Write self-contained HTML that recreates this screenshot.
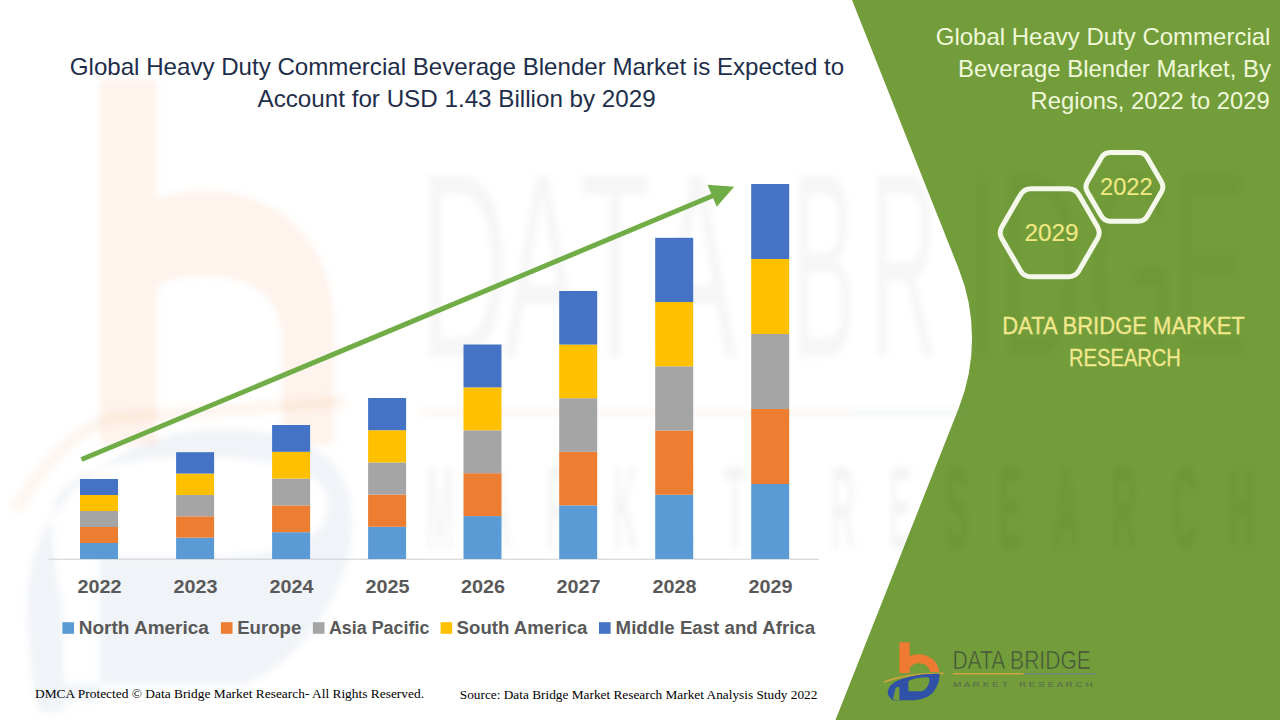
<!DOCTYPE html>
<html><head><meta charset="utf-8"><style>
html,body{margin:0;padding:0;background:#fff;}
body{width:1280px;height:720px;overflow:hidden;position:relative;}
svg{position:absolute;left:0;top:0;display:block;}
.sans{font-family:"Liberation Sans",sans-serif;}
.serif{font-family:"Liberation Serif",serif;}
</style></head><body>
<svg width="1280" height="720" viewBox="0 0 1280 720">
<rect width="1280" height="720" fill="#ffffff"/>
<path d="M852,0 L958.7,268.8 A188.4,188.4 0 0 1 958.8,407.9 L835.5,720 L1280,720 L1280,0 Z" fill="#729D3A"/>

<defs>
<filter id="bl" x="-10%" y="-10%" width="120%" height="120%"><feGaussianBlur stdDeviation="3"/></filter>
<clipPath id="gclip"><path d="M852,0 L958.7,268.8 A188.4,188.4 0 0 1 958.8,407.9 L835.5,720 L1280,720 L1280,0 Z"/></clipPath>
<clipPath id="wclip"><path d="M852,0 L958.7,268.8 A188.4,188.4 0 0 1 958.8,407.9 L835.5,720 L0,720 L0,0 Z"/></clipPath>
</defs>
<g filter="url(#bl)">
<path fill="#F6A46E" fill-opacity="0.135" fill-rule="evenodd" d="M100,80 L157,80 L157,200 C170,193 185,191 205,191 C280,191 334,240 334,330 L334,445 L282,445 L282,340 C282,300 255,276 205,276 C180,276 160,280 157,290 L157,445 L100,445 Z"/>
<path fill="#6070A0" fill-opacity="0.085" fill-rule="evenodd" d="M28,600 C26,520 100,440 200,430 C300,425 352,450 352,525 C352,590 300,662 245,684 L100,684 L100,700 L64,700 L64,712 L40,712 C32,690 28,650 28,600 Z M52,520 C52,470 120,457 200,457 C290,457 328,475 328,505 C328,540 290,557 200,557 L100,557 L100,684 L64,684 L62,600 C56,580 52,550 52,520 Z"/>
<path fill="none" stroke="#F0A060" stroke-opacity="0.11" stroke-width="12" d="M16,510 Q55,440 110,418 L345,402"/>
<rect x="420" y="410" width="430" height="6" fill="#F6A46E" fill-opacity="0.10"/>
<rect x="850" y="410" width="120" height="6" fill="#7090A0" fill-opacity="0.08"/>
<g fill="#000" fill-opacity="0.036" class="sans" font-size="115" text-anchor="middle" clip-path="url(#wclip)">
<text transform="translate(464,357.5) scale(1.08,2.31)">D</text>
<text transform="translate(542,357.5) scale(1.0,2.31)">A</text>
<text transform="translate(615,357.5) scale(1.0,2.31)">T</text>
<text transform="translate(697,357.5) scale(1.05,2.31)">A</text>
<text transform="translate(824,357.5) scale(0.85,2.31)">B</text>
<text transform="translate(904,357.5) scale(0.82,2.31)">R</text>
<text transform="translate(982,357.5) scale(1.0,2.31)">I</text>
<text transform="translate(1040,357.5) scale(1.0,2.31)">D</text>
<text transform="translate(1132,357.5) scale(1.0,2.31)">G</text>
<text transform="translate(1210,357.5) scale(1.0,2.31)">E</text>
</g>
<g fill="#000" fill-opacity="0.022" class="sans" font-size="115" text-anchor="middle" clip-path="url(#gclip)">
<text transform="translate(464,357.5) scale(1.08,2.31)">D</text>
<text transform="translate(542,357.5) scale(1.0,2.31)">A</text>
<text transform="translate(615,357.5) scale(1.0,2.31)">T</text>
<text transform="translate(697,357.5) scale(1.05,2.31)">A</text>
<text transform="translate(824,357.5) scale(0.85,2.31)">B</text>
<text transform="translate(904,357.5) scale(0.82,2.31)">R</text>
<text transform="translate(982,357.5) scale(1.0,2.31)">I</text>
<text transform="translate(1040,357.5) scale(1.0,2.31)">D</text>
<text transform="translate(1132,357.5) scale(1.0,2.31)">G</text>
<text transform="translate(1210,357.5) scale(1.0,2.31)">E</text>
</g>
<g fill="#000" fill-opacity="0.042" class="sans" font-size="34" font-weight="bold" text-anchor="middle">
<text transform="translate(440.0,549) scale(1,3.5)">M</text>
<text transform="translate(499.0,549) scale(1,3.5)">A</text>
<text transform="translate(558.0,549) scale(1,3.5)">R</text>
<text transform="translate(625.0,549) scale(1,3.5)">K</text>
<text transform="translate(680.0,549) scale(1,3.5)">E</text>
<text transform="translate(735.0,549) scale(1,3.5)">T</text>
<text transform="translate(843.0,549) scale(1,3.5)">R</text>
<text transform="translate(900.0,549) scale(1,3.5)">E</text>
<text transform="translate(957.0,549) scale(1,3.5)">S</text>
<text transform="translate(1010.0,549) scale(1,3.5)">E</text>
<text transform="translate(1066.0,549) scale(1,3.5)">A</text>
<text transform="translate(1124.0,549) scale(1,3.5)">R</text>
<text transform="translate(1185.0,549) scale(1,3.5)">C</text>
<text transform="translate(1242.0,549) scale(1,3.5)">H</text>
</g>
</g>

<!-- title -->
<g class="sans" fill="#1E2E4A" font-size="24">
<text x="69.8" y="74.6" textLength="774.4" lengthAdjust="spacingAndGlyphs">Global Heavy Duty Commercial Beverage Blender Market is Expected to</text>
<text x="257.5" y="106.7" textLength="398.2" lengthAdjust="spacingAndGlyphs">Account for USD 1.43 Billion by 2029</text>
</g>
<!-- axis -->
<rect x="48.5" y="558.7" width="770.5" height="1.1" fill="#D2D3D8"/>
<rect x="80" y="543.00" width="38" height="16.00" fill="#5B9BD5"/>
<rect x="80" y="527.00" width="38" height="16.00" fill="#ED7D31"/>
<rect x="80" y="511.00" width="38" height="16.00" fill="#A5A5A5"/>
<rect x="80" y="495.00" width="38" height="16.00" fill="#FFC000"/>
<rect x="80" y="479.00" width="38" height="16.00" fill="#4472C4"/>
<rect x="176.1" y="537.64" width="38" height="21.36" fill="#5B9BD5"/>
<rect x="176.1" y="516.28" width="38" height="21.36" fill="#ED7D31"/>
<rect x="176.1" y="494.92" width="38" height="21.36" fill="#A5A5A5"/>
<rect x="176.1" y="473.56" width="38" height="21.36" fill="#FFC000"/>
<rect x="176.1" y="452.20" width="38" height="21.36" fill="#4472C4"/>
<rect x="272.1" y="532.20" width="38" height="26.80" fill="#5B9BD5"/>
<rect x="272.1" y="505.40" width="38" height="26.80" fill="#ED7D31"/>
<rect x="272.1" y="478.60" width="38" height="26.80" fill="#A5A5A5"/>
<rect x="272.1" y="451.80" width="38" height="26.80" fill="#FFC000"/>
<rect x="272.1" y="425.00" width="38" height="26.80" fill="#4472C4"/>
<rect x="368.1" y="526.80" width="38" height="32.20" fill="#5B9BD5"/>
<rect x="368.1" y="494.60" width="38" height="32.20" fill="#ED7D31"/>
<rect x="368.1" y="462.40" width="38" height="32.20" fill="#A5A5A5"/>
<rect x="368.1" y="430.20" width="38" height="32.20" fill="#FFC000"/>
<rect x="368.1" y="398.00" width="38" height="32.20" fill="#4472C4"/>
<rect x="463.5" y="516.10" width="38" height="42.90" fill="#5B9BD5"/>
<rect x="463.5" y="473.20" width="38" height="42.90" fill="#ED7D31"/>
<rect x="463.5" y="430.30" width="38" height="42.90" fill="#A5A5A5"/>
<rect x="463.5" y="387.40" width="38" height="42.90" fill="#FFC000"/>
<rect x="463.5" y="344.50" width="38" height="42.90" fill="#4472C4"/>
<rect x="559.2" y="505.40" width="38" height="53.60" fill="#5B9BD5"/>
<rect x="559.2" y="451.80" width="38" height="53.60" fill="#ED7D31"/>
<rect x="559.2" y="398.20" width="38" height="53.60" fill="#A5A5A5"/>
<rect x="559.2" y="344.60" width="38" height="53.60" fill="#FFC000"/>
<rect x="559.2" y="291.00" width="38" height="53.60" fill="#4472C4"/>
<rect x="655.2" y="494.76" width="38" height="64.24" fill="#5B9BD5"/>
<rect x="655.2" y="430.52" width="38" height="64.24" fill="#ED7D31"/>
<rect x="655.2" y="366.28" width="38" height="64.24" fill="#A5A5A5"/>
<rect x="655.2" y="302.04" width="38" height="64.24" fill="#FFC000"/>
<rect x="655.2" y="237.80" width="38" height="64.24" fill="#4472C4"/>
<rect x="751.2" y="484.00" width="38" height="75.00" fill="#5B9BD5"/>
<rect x="751.2" y="409.00" width="38" height="75.00" fill="#ED7D31"/>
<rect x="751.2" y="334.00" width="38" height="75.00" fill="#A5A5A5"/>
<rect x="751.2" y="259.00" width="38" height="75.00" fill="#FFC000"/>
<rect x="751.2" y="184.00" width="38" height="75.00" fill="#4472C4"/>
<!-- arrow -->
<line x1="81.5" y1="459.5" x2="714" y2="195.3" stroke="#70AD47" stroke-width="5"/>
<path d="M734.2,186.7 L707.5,184.8 L716.7,206.7 Z" fill="#70AD47"/>
<g class="sans" font-weight="bold" fill="#595959" font-size="18.3">
<text x="77.4" y="592.9" textLength="44" lengthAdjust="spacingAndGlyphs">2022</text>
<text x="173.5" y="592.9" textLength="44" lengthAdjust="spacingAndGlyphs">2023</text>
<text x="269.5" y="592.9" textLength="44" lengthAdjust="spacingAndGlyphs">2024</text>
<text x="365.5" y="592.9" textLength="44" lengthAdjust="spacingAndGlyphs">2025</text>
<text x="460.9" y="592.9" textLength="44" lengthAdjust="spacingAndGlyphs">2026</text>
<text x="556.6" y="592.9" textLength="44" lengthAdjust="spacingAndGlyphs">2027</text>
<text x="652.6" y="592.9" textLength="44" lengthAdjust="spacingAndGlyphs">2028</text>
<text x="748.6" y="592.9" textLength="44" lengthAdjust="spacingAndGlyphs">2029</text>
</g>
<g class="sans" font-weight="bold" fill="#595959" font-size="17.5">
<rect x="62.4" y="622.2" width="11.6" height="11.6" fill="#5B9BD5"/>
<text x="78.7" y="633.6" textLength="130.2" lengthAdjust="spacingAndGlyphs">North America</text>
<rect x="220.9" y="622.2" width="11.6" height="11.6" fill="#ED7D31"/>
<text x="237.2" y="633.6" textLength="64.1" lengthAdjust="spacingAndGlyphs">Europe</text>
<rect x="312.9" y="622.2" width="11.6" height="11.6" fill="#A5A5A5"/>
<text x="328.9" y="633.6" textLength="100.5" lengthAdjust="spacingAndGlyphs">Asia Pacific</text>
<rect x="440.6" y="622.2" width="11.6" height="11.6" fill="#FFC000"/>
<text x="456.6" y="633.6" textLength="130.8" lengthAdjust="spacingAndGlyphs">South America</text>
<rect x="599" y="622.2" width="11.6" height="11.6" fill="#4472C4"/>
<text x="615.6" y="633.6" textLength="199.5" lengthAdjust="spacingAndGlyphs">Middle East and Africa</text>
</g>
<g class="serif" fill="#000" font-size="13">
<text x="35" y="697.9" textLength="389" lengthAdjust="spacingAndGlyphs">DMCA Protected © Data Bridge  Market Research- All Rights Reserved.</text>
<text x="459.8" y="698.6" textLength="357.6" lengthAdjust="spacingAndGlyphs">Source: Data Bridge Market Research Market Analysis Study 2022</text>
</g>
<!-- right panel -->
<g class="sans" fill="#F0F8DA" font-size="24">
<text x="935.8" y="44.8" textLength="334.6" lengthAdjust="spacingAndGlyphs">Global Heavy Duty Commercial</text>
<text x="958" y="76.8" textLength="313" lengthAdjust="spacingAndGlyphs">Beverage Blender Market, By</text>
<text x="1030.6" y="108.7" textLength="239.1" lengthAdjust="spacingAndGlyphs">Regions, 2022 to 2029</text>
</g>
<g fill="none" stroke="#F4F8EA" stroke-width="5" stroke-linejoin="round">
<path d="M1001.93,226.65 L1020.52,194.75 Q1024.05,188.70 1031.05,188.70 L1068.35,188.70 Q1075.35,188.70 1078.88,194.75 L1097.47,226.65 Q1101.00,232.70 1097.47,238.75 L1078.88,270.65 Q1075.35,276.70 1068.35,276.70 L1031.05,276.70 Q1024.05,276.70 1020.52,270.65 L1001.93,238.75 Q998.40,232.70 1001.93,226.65 Z"/>
<path d="M1087.42,181.71 L1101.38,157.69 Q1104.40,152.50 1110.40,152.50 L1138.40,152.50 Q1144.40,152.50 1147.42,157.69 L1161.38,181.71 Q1164.40,186.90 1161.38,192.09 L1147.42,216.11 Q1144.40,221.30 1138.40,221.30 L1110.40,221.30 Q1104.40,221.30 1101.38,216.11 L1087.42,192.09 Q1084.40,186.90 1087.42,181.71 Z"/>
</g>
<g class="sans" fill="#F0E883" stroke="#F0E883" stroke-width="0.15" font-size="23.5">
<text x="1024.4" y="241" textLength="54.1" lengthAdjust="spacingAndGlyphs">2029</text>
<text x="1100" y="194.8" textLength="52.6" lengthAdjust="spacingAndGlyphs">2022</text>
</g>
<g class="sans" fill="#F2E88E" stroke="#F2E88E" stroke-width="0.3" font-size="24">
<text x="1002.2" y="334.1" textLength="242.6" lengthAdjust="spacingAndGlyphs">DATA BRIDGE MARKET</text>
<text x="1069.1" y="365.7" textLength="111.8" lengthAdjust="spacingAndGlyphs">RESEARCH</text>
</g>
<!-- logo -->
<g>
<path d="M899.4,642.3 L909.7,642.3 L909.7,656 A21,19 0 0 1 939.3,672 L930,672 A11,10 0 0 0 909.7,668 L909.7,673 L899.4,673 Z" fill="#EF7A32"/>
<path d="M884.1,682 Q905,673.5 943.7,673.3" fill="none" stroke="#C9A23A" stroke-width="1.8"/>
<path fill="#2F52A8" d="M892.6,700.2 C889,697 887,694 887.8,691.7 C888.5,688 890,685.5 892.6,683.8 C896,681 900,679.5 903.1,678.6 C910,676.5 914,675.5 918.9,674.9 C926,674 933,673.8 939.5,673.8 C939.8,677 939,681 937.9,683.8 C936.5,687.5 935,690 932.7,692.8 C930,695.5 927.5,697 924.2,698.1 C920,699.5 917,700.2 913.7,700.2 Z"/>
<path fill="#729D3A" d="M908.4,681 L908.4,691.2 L921.6,691.2 C926,690 929.5,685 929.5,679.5 C929.5,677.5 928,677 925,677.2 C918,677.8 912,679 908.4,681 Z M892.8,699.6 L895.5,688.5 C896.5,687 898,686.8 899.4,687.2 L899.4,700.2 Z"/>
</g>
<g class="sans" fill="#3F4F3B" font-size="24">
<text x="952.4" y="669.1" textLength="138.4" lengthAdjust="spacingAndGlyphs" style="font-size:25.5px" stroke="#729D3A" stroke-width="0.7">DATA BRIDGE</text>
</g>
<rect x="952.9" y="673" width="70.8" height="1.5" fill="#C9A640"/>
<rect x="1023.7" y="673" width="72.1" height="1.5" fill="#6B8C78"/>
<g class="sans" fill="#55684E" font-size="8">
<text x="952.9" y="686.6" textLength="55" lengthAdjust="spacingAndGlyphs">M A R K E T</text>
<text x="1018.9" y="686.6" textLength="73.8" lengthAdjust="spacingAndGlyphs">R E S E A R C H</text>
</g>
</svg>
</body></html>
